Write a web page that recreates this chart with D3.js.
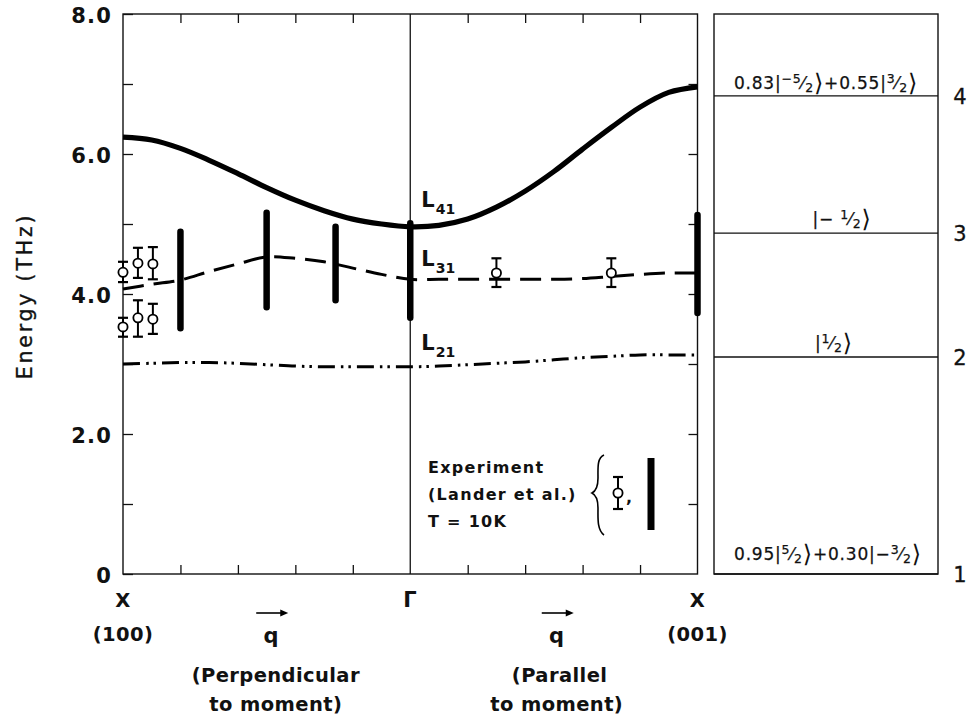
<!DOCTYPE html>
<html>
<head>
<meta charset="utf-8">
<script src="https://cdn.jsdelivr.net/npm/d3@7"></script>
<style>
  body { margin: 0; background: #fff; }
  svg { display: block; }
  text { fill: #111; font-family: "DejaVu Sans", "Liberation Sans", sans-serif; }
</style>
</head>
<body>
<svg id="chart" width="967" height="719"></svg>
<script>
// Dispersion branches sampled along the path X(100) -> Γ (q = 5) -> X(001) (q = 10)
const qPath = [0, 0.5, 1, 1.5, 2, 2.5, 3, 3.5, 4, 4.5, 5, 5.5, 6, 6.5, 7, 7.5, 8, 8.5, 9, 9.5, 10];
const branchL41 = [6.24, 6.20, 6.08, 5.91, 5.72, 5.52, 5.34, 5.19, 5.07, 5.00, 4.96, 4.98, 5.07, 5.24, 5.47, 5.75, 6.07, 6.38, 6.67, 6.88, 6.96];
const branchL31 = [4.07, 4.14, 4.20, 4.32, 4.43, 4.53, 4.51, 4.46, 4.37, 4.28, 4.21, 4.21, 4.21, 4.21, 4.21, 4.21, 4.22, 4.25, 4.28, 4.30, 4.30];
const branchL21 = [3.00, 3.01, 3.02, 3.02, 3.01, 2.99, 2.97, 2.96, 2.96, 2.96, 2.96, 2.97, 2.99, 3.01, 3.03, 3.06, 3.09, 3.11, 3.13, 3.13, 3.13];
const branchNames = ["L41", "L31", "L21"];

// Neutron data (Lander et al., T = 10 K): open circles with error bars
const expPointQ  = [0, 0.26, 0.52, 0, 0.26, 0.52, 6.5, 8.5];
const expPointE  = [4.31, 4.44, 4.43, 3.53, 3.66, 3.64, 4.30, 4.30];
const expPointLo = [4.17, 4.23, 4.21, 3.39, 3.39, 3.43, 4.10, 4.10];
const expPointHi = [4.46, 4.66, 4.67, 3.66, 3.91, 3.86, 4.51, 4.51];

// Neutron data: broad peaks drawn as thick bars
const expBarQ  = [1, 2.5, 3.7, 5, 10];
const expBarLo = [3.51, 3.81, 3.91, 3.66, 3.73];
const expBarHi = [4.89, 5.16, 4.96, 5.01, 5.13];

// Crystal-field levels (right panel)
const levelE   = [0, 3.10, 4.87, 6.83];
const levelNum = ["1", "2", "3", "4"];
// state labels: [text, kind] where kind is "", "sup", "sub" or "ket" (closing bracket)
const levelState = [
  [["0.95|", ""], ["5", "sup"], ["⁄", ""], ["2", "sub"], ["⟩", "ket"], ["+0.30|−", ""], ["3", "sup"], ["⁄", ""], ["2", "sub"], ["⟩", "ket"]],
  [["|", ""], ["1", "sup"], ["⁄", ""], ["2", "sub"], ["⟩", "ket"]],
  [["|− ", ""], ["1", "sup"], ["⁄", ""], ["2", "sub"], ["⟩", "ket"]],
  [["0.83|", ""], ["−5", "sup"], ["⁄", ""], ["2", "sub"], ["⟩", "ket"], ["+0.55|", ""], ["3", "sup"], ["⁄", ""], ["2", "sub"], ["⟩", "ket"]]
];

// Axis ticks
const yTickValues = [0, 1, 2, 3, 4, 5, 6, 7, 8];
const yTickLabels = ["0", "", "2.0", "", "4.0", "", "6.0", "", "8.0"];
const xTickValues = [1, 2, 3, 4, 6, 7, 8, 9];

const svg = d3.select("#chart");

const x = d3.scaleLinear().domain([0, 10]).range([123, 697.5]);
const y = d3.scaleLinear().domain([0, 8]).range([574, 14]);
const panelX = [714, 938];

const ink = "#111";

// --- main frame ---
svg.append("rect")
  .attr("x", x(0)).attr("y", y(8))
  .attr("width", x(10) - x(0)).attr("height", y(0) - y(8))
  .attr("fill", "none").attr("stroke", ink).attr("stroke-width", 1.4);

// Γ divider
svg.append("line")
  .attr("x1", x(5)).attr("x2", x(5)).attr("y1", y(8)).attr("y2", y(0))
  .attr("stroke", ink).attr("stroke-width", 1.3);

function styleAxis(g) {
  g.select(".domain").remove();
  g.selectAll(".tick line").attr("stroke", ink).attr("stroke-width", 1.3);
}

// left axis with inward ticks and labels
svg.append("g")
  .attr("transform", `translate(${x(0)},0)`)
  .call(d3.axisLeft(y).tickValues(yTickValues).tickSize(-10).tickPadding(11)
    .tickFormat((d, i) => yTickLabels[i]))
  .call(styleAxis)
  .call(g => g.selectAll(".tick text")
    .attr("font-family", "DejaVu Sans").attr("font-weight", "bold")
    .attr("font-size", 21).attr("letter-spacing", 1.2).attr("fill", ink)
    .attr("dy", "0.4em"));

// right edge ticks
svg.append("g")
  .attr("transform", `translate(${x(10)},0)`)
  .call(d3.axisRight(y).tickValues(yTickValues.slice(1, 8)).tickSize(-9).tickFormat(""))
  .call(styleAxis);

// top and bottom ticks
svg.append("g")
  .attr("transform", `translate(0,${y(8)})`)
  .call(d3.axisTop(x).tickValues(xTickValues).tickSize(-9).tickFormat(""))
  .call(styleAxis);
svg.append("g")
  .attr("transform", `translate(0,${y(0)})`)
  .call(d3.axisBottom(x).tickValues(xTickValues).tickSize(-9).tickFormat(""))
  .call(styleAxis);

// y-axis title
svg.append("text")
  .attr("transform", `translate(32,${(y(0) + y(8)) / 2 + 2}) rotate(-90)`)
  .attr("text-anchor", "middle")
  .attr("font-size", 20.5).attr("letter-spacing", 2.8)
  .attr("stroke", ink).attr("stroke-width", 0.35)
  .text("Energy (THz)");

// --- dispersion curves ---
const line = d3.line()
  .x(d => x(d[0])).y(d => y(d[1]))
  .curve(d3.curveCatmullRom.alpha(0.5));

const branchData = [branchL41, branchL31, branchL21].map(vals => qPath.map((q, i) => [q, vals[i]]));
const branchStyle = [
  { w: 5.2, dash: null },
  { w: 3, dash: "21,10" },
  { w: 3, dash: "17,6,2.5,5,2.5,6" }
];

svg.append("g").selectAll("path")
  .data(branchData)
  .join("path")
  .attr("d", line)
  .attr("fill", "none")
  .attr("stroke", "#000")
  .attr("stroke-width", (d, i) => branchStyle[i].w)
  .attr("stroke-dasharray", (d, i) => branchStyle[i].dash);

// branch labels near Γ
const branchLabelE = [5.25, 4.40, 3.20];
const branchLabels = svg.append("g").selectAll("text")
  .data(branchNames)
  .join("text")
  .attr("x", x(5) + 11)
  .attr("y", (d, i) => y(branchLabelE[i]))
  .attr("font-weight", "bold")
  .attr("font-size", 21);
branchLabels.append("tspan").text(d => d[0]);
branchLabels.append("tspan").attr("font-size", 14).attr("dy", 7).attr("dx", 1).text(d => d.slice(1));

// --- experimental thick bars ---
svg.append("g").selectAll("line")
  .data(expBarQ.map((q, i) => ({ q, lo: expBarLo[i], hi: expBarHi[i] })))
  .join("line")
  .attr("x1", d => x(d.q)).attr("x2", d => x(d.q))
  .attr("y1", d => y(d.hi)).attr("y2", d => y(d.lo))
  .attr("stroke", "#000").attr("stroke-width", 6.5)
  .attr("stroke-linecap", "round");

// --- experimental points with error bars ---
function drawErrorPoint(g, cx, cy, top, bot) {
  g.append("line").attr("x1", cx).attr("x2", cx).attr("y1", top).attr("y2", bot)
    .attr("stroke", "#000").attr("stroke-width", 2);
  [top, bot].forEach(v => g.append("line")
    .attr("x1", cx - 5).attr("x2", cx + 5).attr("y1", v).attr("y2", v)
    .attr("stroke", "#000").attr("stroke-width", 2.2));
  g.append("circle").attr("cx", cx).attr("cy", cy).attr("r", 4.6)
    .attr("fill", "#fff").attr("stroke", "#000").attr("stroke-width", 1.8);
}
const pts = svg.append("g");
expPointQ.forEach((q, i) => {
  drawErrorPoint(pts, x(q), y(expPointE[i]), y(expPointHi[i]), y(expPointLo[i]));
});

// --- legend ---
const leg = svg.append("g");
["Experiment", "(Lander et al.)", "T = 10K"].forEach((t, i) => {
  leg.append("text")
    .attr("x", 428).attr("y", 473 + i * 27)
    .attr("font-weight", "bold").attr("font-size", 16).attr("letter-spacing", 1.3)
    .text(t);
});
leg.append("path")
  .attr("d", "M604,455 C597,458 598,468 598,478 C598,486 596,491 592,493 C596,495 598,500 598,508 C598,518 597,530 604,535")
  .attr("fill", "none").attr("stroke", "#000").attr("stroke-width", 1.6);
drawErrorPoint(leg, 618, 493, 477, 509);
leg.append("text").attr("x", 626).attr("y", 503)
  .attr("font-weight", "bold").attr("font-size", 16).text(",");
leg.append("line").attr("x1", 651).attr("x2", 651).attr("y1", 458).attr("y2", 530)
  .attr("stroke", "#000").attr("stroke-width", 7);

// --- path labels under the axis ---
const bottom = svg.append("g");
function label(t, px, py) {
  return bottom.append("text").attr("x", px).attr("y", py)
    .attr("text-anchor", "middle").attr("font-weight", "bold")
    .attr("font-size", 19.5).attr("letter-spacing", 0.4).text(t);
}
label("X", x(0), 607);
label("(100)", x(0), 641);
label("Γ", x(5), 607).attr("font-size", 21);
label("X", x(10), 607);
label("(001)", x(10), 641);
label("q", x(2.58), 643).attr("font-size", 21);
label("q", x(7.55), 643).attr("font-size", 21);
label("(Perpendicular", x(2.66), 682);
label("to moment)", x(2.66), 711);
label("(Parallel", x(7.6), 682);
label("to moment)", x(7.55), 711);

// arrows over q
[2.58, 7.55].forEach(q => {
  const cx = x(q);
  bottom.append("line").attr("x1", cx - 15).attr("x2", cx + 12).attr("y1", 613).attr("y2", 613)
    .attr("stroke", "#000").attr("stroke-width", 1.6);
  bottom.append("path")
    .attr("d", `M${cx + 17},613 L${cx + 9},609.5 L${cx + 9},616.5 Z`)
    .attr("fill", "#000");
});

// --- crystal-field level panel ---
svg.append("rect")
  .attr("x", panelX[0]).attr("y", y(8))
  .attr("width", panelX[1] - panelX[0]).attr("height", y(0) - y(8))
  .attr("fill", "none").attr("stroke", ink).attr("stroke-width", 1.4);

svg.append("g").selectAll("line")
  .data(levelE)
  .join("line")
  .attr("x1", panelX[0]).attr("x2", panelX[1])
  .attr("y1", d => y(d)).attr("y2", d => y(d))
  .attr("stroke", ink).attr("stroke-width", 1.4);

svg.append("g").selectAll("text")
  .data(levelE)
  .join("text")
  .attr("x", 960).attr("y", d => y(d) + 8)
  .attr("text-anchor", "middle")
  .attr("font-size", 21)
  .attr("stroke", ink).attr("stroke-width", 0.3)
  .text((d, i) => levelNum[i]);

// state labels built from superscript / subscript pieces
const stateX = [828, 834, 842, 826];
const stateDy = [-14, -8, -8, -7];
levelE.forEach((e, i) => {
  const t = svg.append("text")
    .attr("x", stateX[i]).attr("y", y(e) + stateDy[i])
    .attr("text-anchor", "middle")
    .attr("font-size", 17).attr("letter-spacing", 0.8)
    .attr("stroke", ink).attr("stroke-width", 0.25);
  let shift = 0;
  levelState[i].forEach(([s, kind]) => {
    const target = kind === "sup" ? -6 : kind === "sub" ? 3 : kind === "ket" ? 2 : 0;
    t.append("tspan")
      .attr("dy", target - shift)
      .attr("font-size", kind === "sup" || kind === "sub" ? 12.5 : kind === "ket" ? 24 : 17)
      .attr("stroke-width", kind === "ket" ? 0 : null)
      .text(s);
    shift = target;
  });
});
</script>
</body>
</html>
